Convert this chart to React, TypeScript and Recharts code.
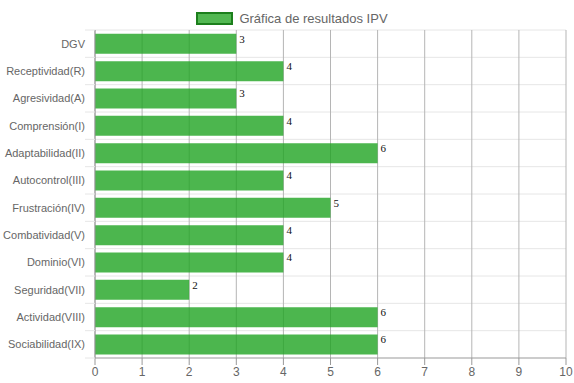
import { Bar, BarChart, CartesianGrid, LabelList, Legend, XAxis, YAxis } from 'recharts'

const categories = [
  'DGV',
  'Receptividad(R)',
  'Agresividad(A)',
  'Comprensión(I)',
  'Adaptabilidad(II)',
  'Autocontrol(III)',
  'Frustración(IV)',
  'Combatividad(V)',
  'Dominio(VI)',
  'Seguridad(VII)',
  'Actividad(VIII)',
  'Sociabilidad(IX)',
]
const scores = [3, 4, 3, 4, 6, 4, 5, 4, 4, 2, 6, 6]
const xTicks = [0, 1, 2, 3, 4, 5, 6, 7, 8, 9, 10]
const seriesName = 'Gráfica de resultados IPV'

const data = categories.map((name, i) => ({ name, value: scores[i] }))

const W = 574
const H = 383
const margin = { top: 6, right: 8, bottom: 0, left: 0 }
const font = '"Liberation Sans", Arial, sans-serif'
const serif = '"Liberation Serif", "Times New Roman", serif'

const LegendBox = () => (
  <div style={{ display: 'flex', justifyContent: 'center', alignItems: 'center', fontFamily: font, fontSize: 13, color: '#666', height: 24, paddingLeft: 18 }}>
    <span style={{ boxSizing: 'border-box', width: 37, height: 13, background: '#52b852', border: '2px solid #1c7f1c', marginRight: 6 }} />
    {seriesName}
  </div>
)

const rowLines = ({ offset }: any) => {
  const step = offset.height / categories.length
  return categories.map((_, i) => offset.top + step * i)
}

const CategoryTick = ({ x, y, payload }: any) => {
  const step = (H - 30 - 25) / categories.length
  return (
    <g>
      <line x1={x - 10} x2={x} y1={y + step / 2} y2={y + step / 2} stroke="#e6e6e6" />
      {payload.index === 0 && <line x1={x - 10} x2={x} y1={y - step / 2} y2={y - step / 2} stroke="#e6e6e6" />}
      <text x={x - 10} y={y} dy={4} textAnchor="end" fill="#666" fontSize={11} fontFamily={font}>
        {payload.value}
      </text>
    </g>
  )
}

const ValueLabel = ({ x, y, width, value }: any) => (
  <text x={x + width + 3} y={y + 9} fill="#111" fontSize={11} fontFamily={serif}>
    {value}
  </text>
)

export default function App() {
  return (
    <div style={{ position: 'absolute', left: 0, top: 0, background: '#fff' }}>
      <BarChart width={W} height={H} data={data} layout="vertical" margin={margin} barCategoryGap="14%">
        <Legend verticalAlign="top" height={24} content={<LegendBox />} />
        <CartesianGrid vertical={false} stroke="#e6e6e6" horizontalCoordinatesGenerator={rowLines} />
        <CartesianGrid horizontal={false} stroke="#b5b5b5" />
        <XAxis
          type="number"
          domain={[0, 10]}
          ticks={xTicks}
          height={25}
          interval={0}
          stroke="#999"
          tickSize={7}
          tickMargin={2}
          tick={{ fill: '#666', fontSize: 12, fontFamily: font }}
        />
        <YAxis
          type="category"
          dataKey="name"
          width={95}
          interval={0}
          stroke="#999"
          tickLine={false}
          tickSize={0}
          tickMargin={0}
          tick={<CategoryTick />}
        />
        <Bar dataKey="value" name={seriesName} fill="#1fa422" fillOpacity={0.8} isAnimationActive={false}>
          <LabelList dataKey="value" content={<ValueLabel />} />
        </Bar>
      </BarChart>
    </div>
  )
}
